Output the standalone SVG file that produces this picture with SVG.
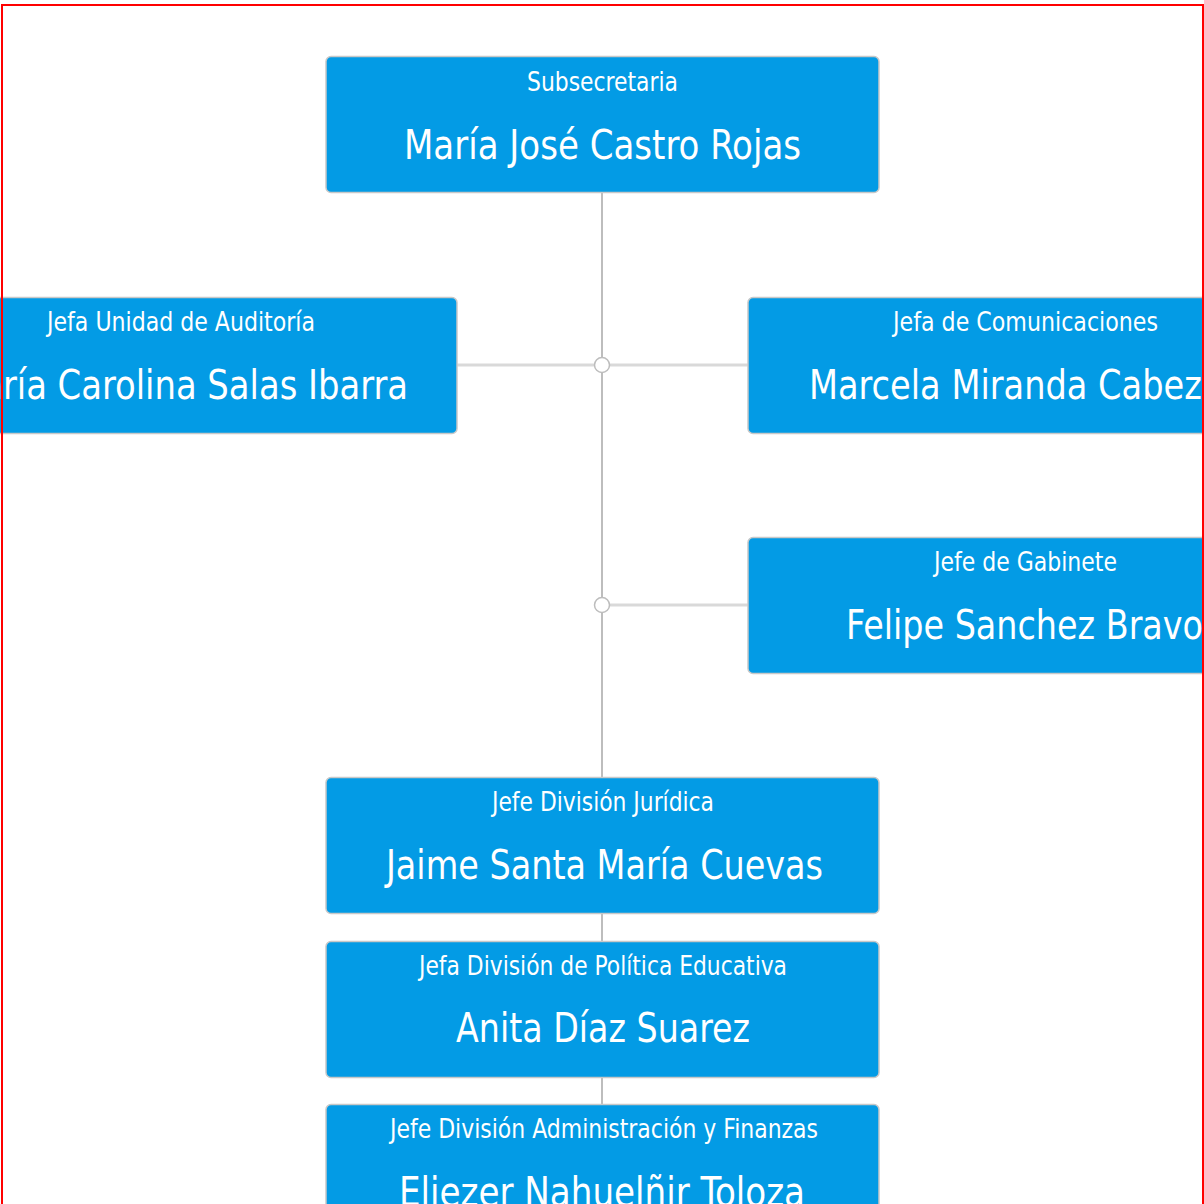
<svg xmlns="http://www.w3.org/2000/svg" width="1204" height="1204" viewBox="0 0 1204 1204">
<style>
.node rect{fill:#039be5;stroke:#c8c8c8;stroke-width:1.5}
.t{font-family:"DejaVu Sans Condensed","DejaVu Sans",sans-serif;fill:#fff;text-anchor:middle}
.title{font-size:27px}
.name{font-size:41px}
.v{stroke:#bdbdbd;stroke-width:2;fill:none}
.h{stroke:#d9d9d9;stroke-width:3;fill:none}
.dot{fill:#fff;stroke:#bdbdbd;stroke-width:1.5}
</style>
<rect x="0" y="0" width="1204" height="1204" fill="#fff"/>
<g id="connectors">
<line class="v" x1="602" y1="193" x2="602" y2="777"/>
<line class="h" x1="457" y1="365" x2="748" y2="365"/>
<line class="h" x1="602" y1="605" x2="748" y2="605"/>
<line class="v" x1="602" y1="913" x2="602" y2="941"/>
<line class="v" x1="602" y1="1077" x2="602" y2="1104"/>
<circle class="dot" cx="602" cy="365" r="7.5"/>
<circle class="dot" cx="602" cy="605" r="7.5"/>
</g>
<g id="n1" class="node">
<rect x="326" y="56.5" width="553" height="136" rx="5"/>
<text class="t title" x="602.5" y="91" textLength="151" lengthAdjust="spacingAndGlyphs">Subsecretaria</text>
<text class="t name" x="602.5" y="159" textLength="397" lengthAdjust="spacingAndGlyphs">María José Castro Rojas</text>
</g>
<g id="n2" class="node">
<rect x="-96" y="297.5" width="553" height="136" rx="5"/>
<text class="t title" x="181" y="331" textLength="268" lengthAdjust="spacingAndGlyphs">Jefa Unidad de Auditoría</text>
<text class="t name" x="180.5" y="399" textLength="455" lengthAdjust="spacingAndGlyphs">María Carolina Salas Ibarra</text>
</g>
<g id="n3" class="node">
<rect x="748" y="297.5" width="553" height="136" rx="5"/>
<text class="t title" x="1025.5" y="331" textLength="265" lengthAdjust="spacingAndGlyphs">Jefa de Comunicaciones</text>
<text class="t name" x="1024.5" y="399" textLength="431" lengthAdjust="spacingAndGlyphs">Marcela Miranda Cabezas</text>
</g>
<g id="n4" class="node">
<rect x="748" y="537.5" width="553" height="136" rx="5"/>
<text class="t title" x="1025.5" y="571" textLength="183" lengthAdjust="spacingAndGlyphs">Jefe de Gabinete</text>
<text class="t name" x="1024.5" y="639" textLength="357" lengthAdjust="spacingAndGlyphs">Felipe Sanchez Bravo</text>
</g>
<g id="n5" class="node">
<rect x="326" y="777.5" width="553" height="136" rx="5"/>
<text class="t title" x="603" y="811" textLength="222" lengthAdjust="spacingAndGlyphs">Jefe División Jurídica</text>
<text class="t name" x="604.5" y="879" textLength="437" lengthAdjust="spacingAndGlyphs">Jaime Santa María Cuevas</text>
</g>
<g id="n6" class="node">
<rect x="326" y="941.5" width="553" height="136" rx="5"/>
<text class="t title" x="603" y="975" textLength="368" lengthAdjust="spacingAndGlyphs">Jefa División de Política Educativa</text>
<text class="t name" x="603" y="1042" textLength="294" lengthAdjust="spacingAndGlyphs">Anita Díaz Suarez</text>
</g>
<g id="n7" class="node">
<rect x="326" y="1104.5" width="553" height="136" rx="5"/>
<text class="t title" x="604" y="1138" textLength="428" lengthAdjust="spacingAndGlyphs">Jefe División Administración y Finanzas</text>
<text class="t name" x="602" y="1206" textLength="406" lengthAdjust="spacingAndGlyphs">Eliezer Nahuelñir Toloza</text>
</g>
<rect x="2" y="5" width="1201" height="1300" fill="none" stroke="#ff0000" stroke-width="2"/>
</svg>
